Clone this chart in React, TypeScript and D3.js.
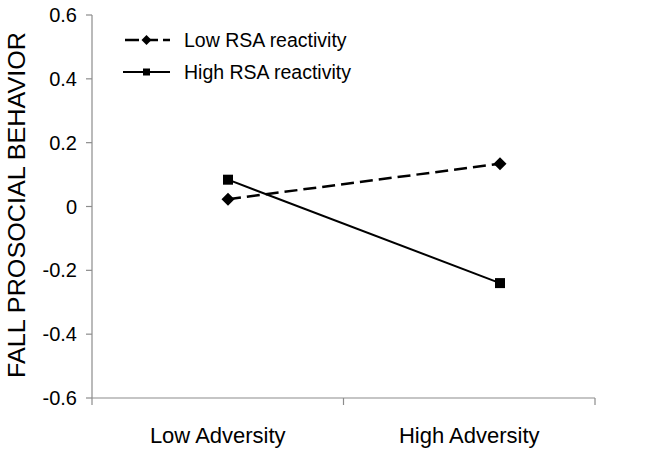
import React from "react";
import * as d3 from "d3";

const categories = ["Low Adversity", "High Adversity"];
const lowRSA = [0.023, 0.134];
const highRSA = [0.084, -0.24];
const yTicks = [0.6, 0.4, 0.2, 0, -0.2, -0.4, -0.6];
const seriesNames = ["Low RSA reactivity", "High RSA reactivity"];

const W = 645;
const H = 456;
const font = "Liberation Sans, Arial, Helvetica, sans-serif";
const axisColor = "#8c8c8c";

const fmtTick = (t: number) => (t === 0 ? "0" : t.toFixed(1));

export default function App() {
  const y = d3.scaleLinear().domain([-0.6, 0.6]).range([398, 15]);
  const xBand = d3.scaleBand<string>().domain(categories).range([92, 595]).padding(0);
  const xData = d3.scalePoint<string>().domain(categories).range([228, 500]);

  const line = d3
    .line<number>()
    .x((_, i) => xData(categories[i]) as number)
    .y((d) => y(d));

  const diamond = (cx: number, cy: number, r: number) =>
    `M${cx},${cy - r}L${cx + r},${cy}L${cx},${cy + r}L${cx - r},${cy}Z`;

  const bandEdges = [...categories.map((c) => xBand(c) as number), xBand.range()[1]];

  return (
    <svg
      width={W}
      height={H}
      style={{ position: "absolute", left: 0, top: 0, background: "#fff" }}
      fontFamily={font}
    >
      <rect width={W} height={H} fill="#fff" />
      {/* y axis */}
      <line x1={92} x2={92} y1={y(0.6)} y2={y(-0.6)} stroke={axisColor} strokeWidth={1.2} />
      {yTicks.map((t) => (
        <g key={t}>
          <line x1={86} x2={92} y1={y(t)} y2={y(t)} stroke={axisColor} strokeWidth={1.2} />
          <text x={77} y={y(t)} dy="0.35em" textAnchor="end" fontSize={20} fill="#000">
            {fmtTick(t)}
          </text>
        </g>
      ))}
      {/* x axis */}
      <line x1={92} x2={595} y1={y(-0.6)} y2={y(-0.6)} stroke={axisColor} strokeWidth={1.2} />
      {bandEdges.map((e, i) => (
        <line key={i} x1={e} x2={e} y1={y(-0.6)} y2={y(-0.6) + 7} stroke={axisColor} strokeWidth={1.2} />
      ))}
      {categories.map((c) => (
        <text
          key={c}
          x={(xBand(c) as number) + xBand.bandwidth() / 2}
          y={443}
          textAnchor="middle"
          fontSize={22}
          fill="#000"
        >
          {c}
        </text>
      ))}
      {/* y title */}
      <text
        transform={`translate(25,205) rotate(-90)`}
        textAnchor="middle"
        fontSize={24}
        textLength={346}
        lengthAdjust="spacingAndGlyphs"
        fill="#000"
      >
        FALL PROSOCIAL BEHAVIOR
      </text>
      {/* series */}
      <path d={line(lowRSA) as string} fill="none" stroke="#000" strokeWidth={2.5} strokeDasharray="13,6" />
      <path d={line(highRSA) as string} fill="none" stroke="#000" strokeWidth={2} />
      {lowRSA.map((v, i) => (
        <path key={"d" + i} d={diamond(xData(categories[i]) as number, y(v), 6.5)} fill="#000" />
      ))}
      {highRSA.map((v, i) => (
        <rect
          key={"s" + i}
          x={(xData(categories[i]) as number) - 5}
          y={y(v) - 5}
          width={10}
          height={10}
          fill="#000"
        />
      ))}
      {/* legend */}
      <g>
        <line x1={123} x2={170} y1={40} y2={40} stroke="#000" strokeWidth={2.5} strokeDasharray="14,5" strokeDashoffset={-2} />
        <path d={diamond(146.5, 40, 5)} fill="#000" />
        <text x={184} y={40} dy="0.35em" fontSize={19.5} fill="#000">
          {seriesNames[0]}
        </text>
        <line x1={123} x2={170} y1={72} y2={72} stroke="#000" strokeWidth={2} />
        <rect x={143} y={68.5} width={7} height={7} fill="#000" />
        <text x={184} y={72} dy="0.35em" fontSize={19.5} fill="#000">
          {seriesNames[1]}
        </text>
      </g>
    </svg>
  );
}
